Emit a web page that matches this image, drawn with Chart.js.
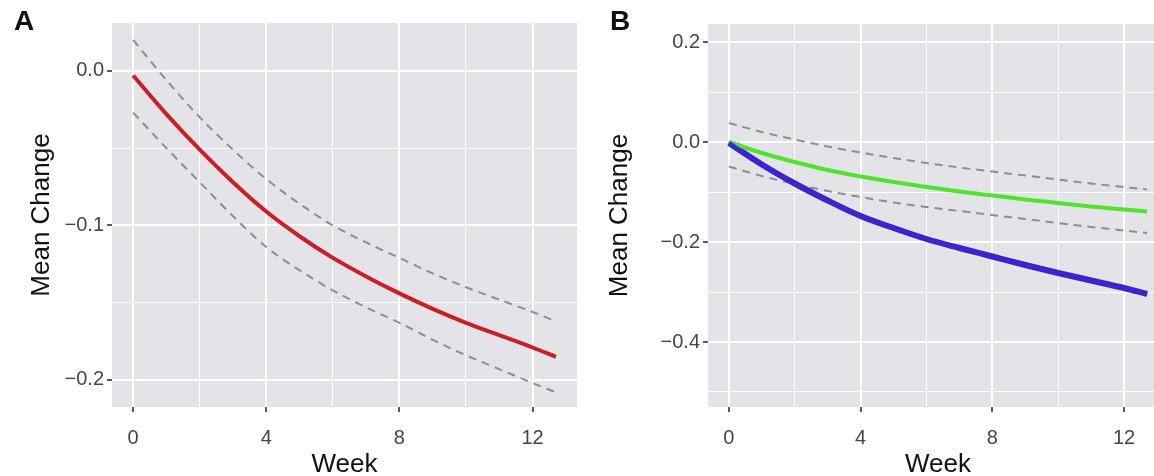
<!DOCTYPE html>
<html>
<head>
<meta charset="utf-8">
<script src="https://cdn.jsdelivr.net/npm/chart.js@4.4.1/dist/chart.umd.min.js"></script>
<style>
  html, body { margin: 0; padding: 0; background: #fff; overflow: hidden; }
  #wrap { position: relative; width: 1154px; height: 476px; overflow: hidden; }
  canvas { position: absolute; top: 0; }
  #chartA { left: 0; }
  #chartB { left: 580px; }
  .tag { position: absolute; top: 5px; font: bold 28px "Liberation Sans", Arial, sans-serif; color: #111; }
</style>
</head>
<body>
<div id="wrap">
  <canvas id="chartA" width="590" height="476"></canvas>
  <canvas id="chartB" width="600" height="476"></canvas>
  <div class="tag" style="left:14px">A</div>
  <div class="tag" style="left:610px">B</div>
</div>
<script>
// semaines de suivi
const weeks = [0, 1, 2, 3, 4, 5, 6, 7, 8, 9, 10, 11, 12, 12.7];

// panneau A : moyenne et intervalle
const meanA  = [-0.003, -0.028, -0.051, -0.072, -0.091, -0.107, -0.121, -0.133, -0.144, -0.154, -0.163, -0.171, -0.179, -0.185];
const upperA = [0.020, -0.006, -0.030, -0.051, -0.070, -0.086, -0.100, -0.111, -0.121, -0.131, -0.140, -0.148, -0.156, -0.162];
const lowerA = [-0.027, -0.050, -0.072, -0.094, -0.114, -0.129, -0.142, -0.153, -0.163, -0.174, -0.184, -0.193, -0.202, -0.208];

// panneau B : deux groupes
const greenB      = [0, -0.022, -0.040, -0.056, -0.069, -0.080, -0.090, -0.099, -0.107, -0.115, -0.122, -0.129, -0.135, -0.139];
const greenUpperB = [0.038, 0.020, 0.005, -0.009, -0.021, -0.032, -0.042, -0.051, -0.059, -0.067, -0.075, -0.083, -0.090, -0.095];
const greenLowerB = [-0.049, -0.068, -0.084, -0.098, -0.110, -0.121, -0.130, -0.138, -0.146, -0.154, -0.162, -0.170, -0.177, -0.182];
const blueB       = [-0.002, -0.045, -0.083, -0.117, -0.148, -0.172, -0.194, -0.212, -0.229, -0.246, -0.262, -0.277, -0.292, -0.304];

// graduations
const weekMajor = [0, 4, 8, 12];
const weekMinor = [2, 6, 10];
const yMajorA = [0, -0.1, -0.2];
const yMinorA = [-0.05, -0.15];
const yLabelsA = ["0.0", "\u22120.1", "\u22120.2"];
const yMajorB = [0.2, 0, -0.2, -0.4];
const yMinorB = [0.1, -0.1, -0.3, -0.5];
const yLabelsB = ["0.2", "0.0", "\u22120.2", "\u22120.4"];

const FONT = "'Liberation Sans', Arial, sans-serif";

const pts = ys => weeks.map((w, i) => ({ x: w, y: ys[i] }));
const near = (list, v) => list.findIndex(m => Math.abs(m - v) < 1e-9);

// fond gris du panneau
const panelBg = {
  id: "panelBg",
  beforeDraw(chart) {
    const { ctx, chartArea: a } = chart;
    ctx.save();
    ctx.fillStyle = "#e4e3e7";
    ctx.fillRect(a.left, a.top, a.right - a.left, a.bottom - a.top);
    ctx.restore();
  }
};

function axis(major, minor, labels, pad, extra) {
  const all = major.concat(minor).sort((a, b) => a - b);
  return Object.assign({
    type: "linear",
    border: { display: false },
    afterBuildTicks: s => { s.ticks = all.map(v => ({ value: v })); },
    grid: {
      color: "#ffffff",
      lineWidth: c => (c.tick && near(major, c.tick.value) >= 0 ? 2 : 1),
      tickLength: 5,
      tickWidth: 1.6,
      tickColor: c => (c.tick && near(major, c.tick.value) >= 0 ? "#333" : "rgba(0,0,0,0)")
    },
    ticks: {
      autoSkip: false,
      maxRotation: 0,
      padding: pad,
      color: "#454545",
      font: { family: FONT, size: 20 },
      callback: v => { const i = near(major, v); return i >= 0 ? labels[i] : ""; }
    }
  }, extra);
}

function makeChart(id, datasets, opts) {
  return new Chart(document.getElementById(id), {
    type: "line",
    data: { datasets },
    options: {
      responsive: false,
      animation: false,
      layout: { padding: opts.padding },
      plugins: { legend: { display: false }, tooltip: { enabled: false } },
      elements: { point: { radius: 0 }, line: { cubicInterpolationMode: "monotone" } },
      scales: {
        x: axis(weekMajor, weekMinor, weekMajor.map(String), 14, {
          min: -0.635, max: 13.335,
          afterFit: s => { s.height = 69; },
          title: { display: true, text: "Week", color: "#111", font: { family: FONT, size: 26, lineHeight: 1 }, padding: { top: 0, bottom: -2 } }
        }),
        y: axis(opts.yMajor, opts.yMinor, opts.yLabels, 3, {
          min: opts.yMin, max: opts.yMax,
          afterFit: s => { s.width = opts.yWidth; },
          title: { display: true, text: "Mean Change", color: "#111", font: { family: FONT, size: 26, lineHeight: 1 }, padding: { top: opts.titlePad, bottom: 0 } }
        })
      }
    },
    plugins: [panelBg]
  });
}

// les pointillés passent sous les courbes (order élevé = dessiné avant)
const dashed = ys => ({ data: pts(ys), borderColor: "#8e8e8e", borderWidth: 2, borderDash: [8, 6], fill: false, order: 5 });

makeChart("chartA", [
  dashed(upperA),
  dashed(lowerA),
  { data: pts(meanA), borderColor: "#cb1e29", borderWidth: 4, fill: false, order: 1 }
], {
  padding: { top: 23, right: 13, left: 0, bottom: 0 },
  yMajor: yMajorA, yMinor: yMinorA, yLabels: yLabelsA,
  yMin: -0.2175, yMax: 0.031, yWidth: 112, titlePad: 29
});

makeChart("chartB", [
  dashed(greenUpperB),
  dashed(greenLowerB),
  { data: pts(greenB), borderColor: "#4fe330", borderWidth: 4, fill: false, order: 2 },
  // contour sombre sous la courbe bleue
  { data: pts(blueB), borderColor: "#3a2c96", borderWidth: 6, fill: false, order: 3 },
  { data: pts(blueB), borderColor: "#3c22dc", borderWidth: 4, fill: false, order: 1 }
], {
  padding: { top: 24, right: 12, left: 0, bottom: 0 },
  yMajor: yMajorB, yMinor: yMinorB, yLabels: yLabelsB,
  yMin: -0.53, yMax: 0.236, yWidth: 128, titlePad: 27
});
</script>
</body>
</html>
